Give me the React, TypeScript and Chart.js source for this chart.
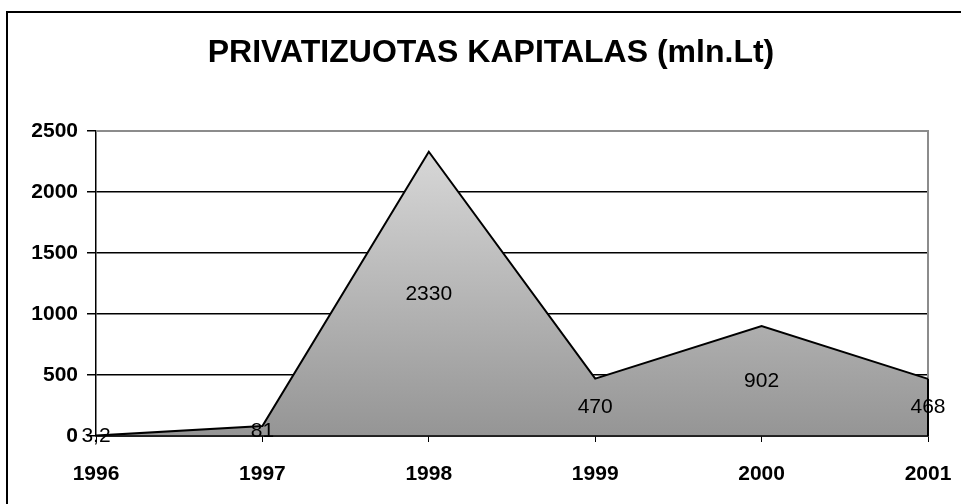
import React, { useEffect, useRef } from "react";
import { Chart, registerables } from "chart.js";

Chart.register(...registerables);

const TITLE = "PRIVATIZUOTAS KAPITALAS (mln.Lt)";
const YEARS = ["1996", "1997", "1998", "1999", "2000", "2001"];
const VALUES = [3.2, 81, 2330, 470, 902, 468];
const VALUE_LABELS = ["3,2", "81", "2330", "470", "902", "468"];
const Y_MAX = 2500;
const Y_STEP = 500;

const FONT = "'Liberation Sans', Arial, sans-serif";

export default function App() {
  const ref = useRef<HTMLCanvasElement | null>(null);

  useEffect(() => {
    const canvas = ref.current;
    if (!canvas) return;

    const decor = {
      id: "decor",
      beforeDatasetsDraw(chart: any) {
        const { ctx, chartArea } = chart;
        ctx.save();
        ctx.strokeStyle = "#8c8c8c";
        ctx.lineWidth = 2;
        ctx.beginPath();
        ctx.moveTo(chartArea.left, chartArea.top);
        ctx.lineTo(chartArea.right, chartArea.top);
        ctx.lineTo(chartArea.right, chartArea.bottom);
        ctx.stroke();
        ctx.restore();
      },
      afterDatasetsDraw(chart: any) {
        const { ctx } = chart;
        const xs = chart.scales.x;
        const ys = chart.scales.y;
        ctx.save();
        ctx.strokeStyle = "#000";
        ctx.lineWidth = 2;
        const last = VALUES.length - 1;
        ctx.beginPath();
        ctx.moveTo(xs.getPixelForValue(last), ys.getPixelForValue(VALUES[last]));
        ctx.lineTo(xs.getPixelForValue(last), ys.getPixelForValue(0));
        ctx.stroke();
        ctx.beginPath();
        ctx.lineWidth = 1.5;
        ctx.moveTo(xs.getPixelForValue(0), ys.getPixelForValue(0));
        ctx.lineTo(xs.getPixelForValue(last), ys.getPixelForValue(0));
        ctx.stroke();
        ctx.fillStyle = "#000";
        ctx.font = `21px ${FONT}`;
        ctx.textAlign = "center";
        ctx.textBaseline = "middle";
        VALUES.forEach((v, i) => {
          ctx.fillText(VALUE_LABELS[i], xs.getPixelForValue(i), ys.getPixelForValue(v / 2));
        });
        ctx.restore();
      },
      afterDraw(chart: any) {
        const { ctx } = chart;
        ctx.save();
        ctx.fillStyle = "#000";
        ctx.font = `bold 32px ${FONT}`;
        ctx.textAlign = "center";
        ctx.textBaseline = "alphabetic";
        ctx.fillText(TITLE, 491, 62);
        ctx.strokeStyle = "#000";
        ctx.lineWidth = 2;
        ctx.strokeRect(7, 12, 1200, 1200);
        ctx.restore();
      },
    };

    const chart = new Chart(canvas, {
      type: "line",
      data: {
        labels: YEARS,
        datasets: [
          {
            data: VALUES,
            borderColor: "#000",
            borderWidth: 2,
            pointRadius: 0,
            tension: 0,
            fill: "origin",
            backgroundColor: (c: any) => {
              const area = c.chart.chartArea;
              if (!area) return "#bbb";
              const g = c.chart.ctx.createLinearGradient(0, area.top, 0, area.bottom);
              g.addColorStop(0, "#dcdcdc");
              g.addColorStop(1, "#959595");
              return g;
            },
          },
        ],
      },
      options: {
        responsive: false,
        animation: false,
        layout: { padding: { top: 131, right: 33, left: 0, bottom: 0 } },
        plugins: {
          legend: { display: false },
          tooltip: { enabled: false },
          title: { display: false },
        },
        scales: {
          x: {
            type: "category",
            offset: false,
            afterFit: (s: any) => {
              s.height = 68;
              s.paddingLeft = 0;
              s.paddingRight = 0;
            },
            grid: {
              drawOnChartArea: false,
              drawTicks: true,
              tickLength: 6,
              tickColor: "#000",
              offset: false,
            },
            border: { color: "#000", width: 1.5 },
            ticks: {
              color: "#000",
              font: { family: FONT, size: 21, weight: "bold" },
              padding: 20,
              maxRotation: 0,
              autoSkip: false,
            },
          },
          y: {
            min: 0,
            max: Y_MAX,
            afterFit: (s: any) => {
              s.width = 96;
              s.paddingTop = 0;
              s.paddingBottom = 0;
            },
            grid: {
              color: (c: any) =>
                c.tick && (c.tick.value === Y_MAX || c.tick.value === 0) ? "rgba(0,0,0,0)" : "#000",
              lineWidth: 1.5,
              tickLength: 9,
              tickColor: "#000",
            },
            border: { color: "#000", width: 1.5 },
            ticks: {
              stepSize: Y_STEP,
              color: "#000",
              padding: 9,
              font: { family: FONT, size: 21, weight: "bold" },
              callback: (v: any) => String(v),
            },
          },
        },
      },
      plugins: [decor],
    });

    return () => chart.destroy();
  }, []);

  return (
    <div style={{ position: "absolute", left: 0, top: 0, width: 961, height: 504, background: "#fff" }}>
      <canvas ref={ref} width={961} height={504} style={{ display: "block" }} />
    </div>
  );
}
